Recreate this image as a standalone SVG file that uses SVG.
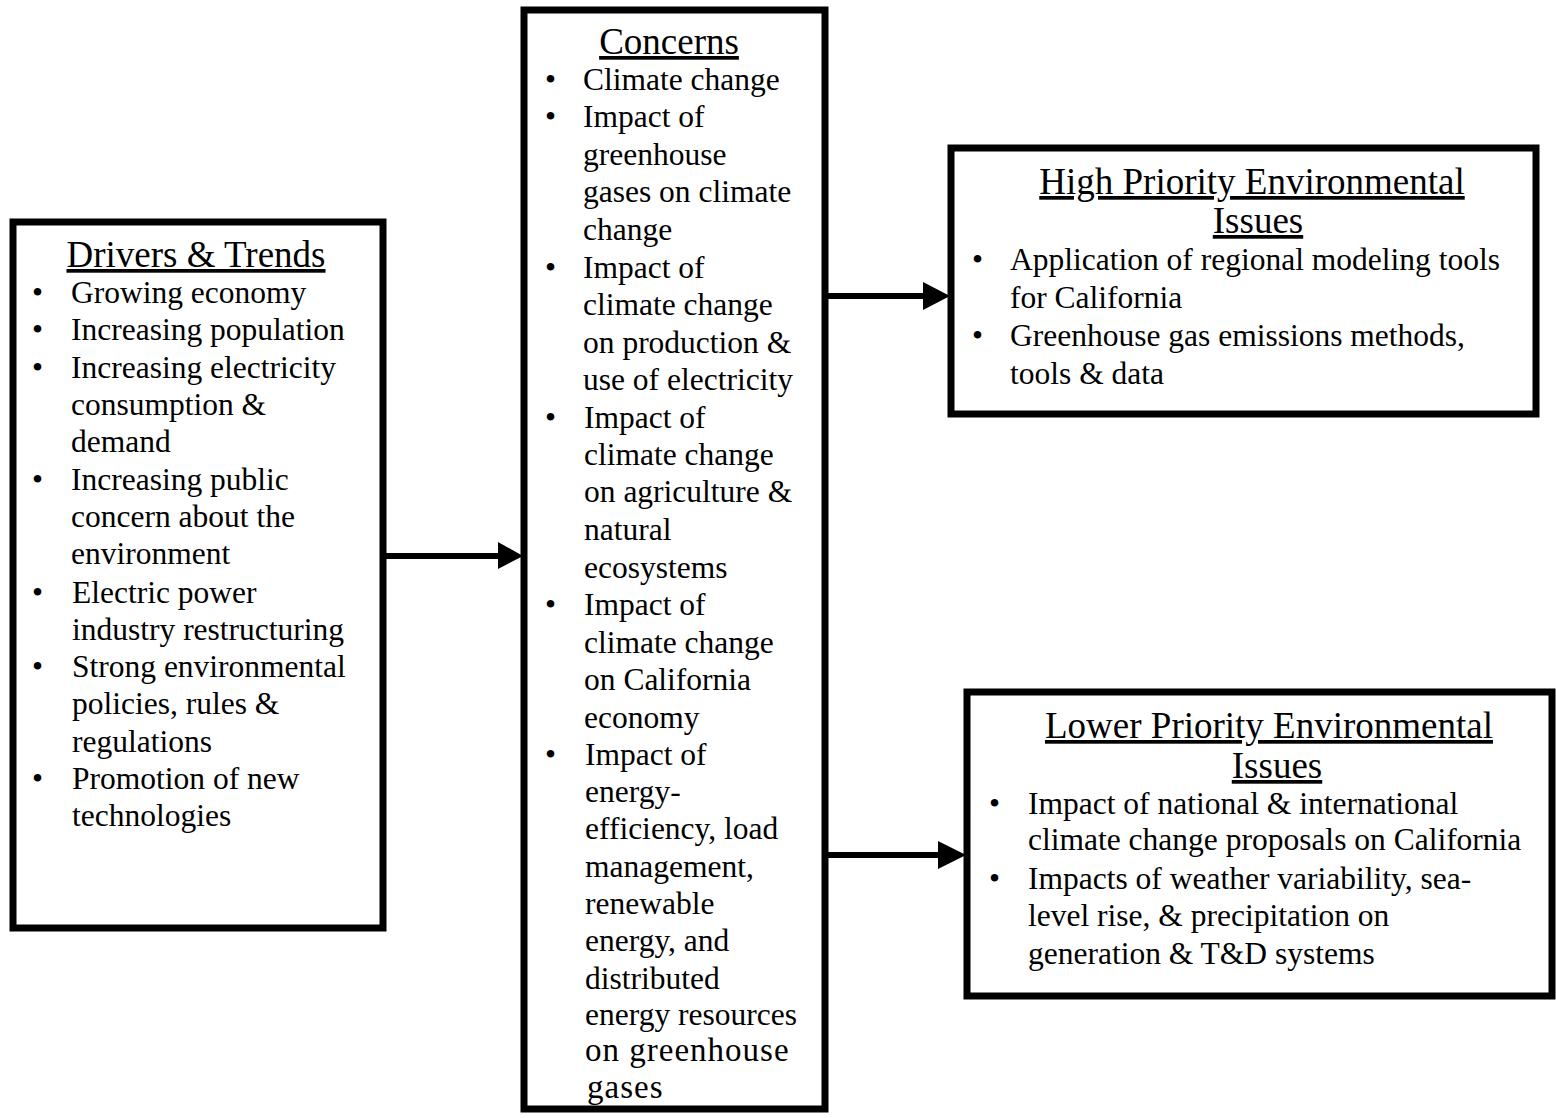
<svg xmlns="http://www.w3.org/2000/svg" width="1556" height="1118" viewBox="0 0 1556 1118">
<style>
.box{fill:#fff;stroke:#000;stroke-width:7}
text{font-family:"Liberation Serif","Times New Roman",serif;fill:#000}
.t{font-size:37px;text-anchor:middle;text-decoration:underline}
.b{font-size:31.5px}
.g{font-size:33px;letter-spacing:1px}
.conn line{stroke:#000;stroke-width:6}
.conn polygon{fill:#000}
</style>
<rect width="1556" height="1118" fill="#fff"/>
<g id="drivers">
<rect class="box" x="13" y="222" width="370" height="706"/>
<text class="t" x="196" y="267">Drivers &amp; Trends</text>
<g class="b">
<text x="32" y="303">•</text><text x="71" y="303">Growing economy</text>
<text x="32" y="340">•</text><text x="71" y="340">Increasing population</text>
<text x="32" y="378">•</text><text x="71" y="378">Increasing electricity</text>
<text x="71" y="415">consumption &amp;</text>
<text x="71" y="452">demand</text>
<text x="32" y="490">•</text><text x="71" y="490">Increasing public</text>
<text x="71" y="527">concern about the</text>
<text x="71" y="564">environment</text>
<text x="32" y="603">•</text><text x="72" y="603">Electric power</text>
<text x="72" y="640">industry restructuring</text>
<text x="32" y="677">•</text><text x="72" y="677">Strong environmental</text>
<text x="72" y="714">policies, rules &amp;</text>
<text x="72" y="752">regulations</text>
<text x="32" y="789">•</text><text x="72" y="789">Promotion of new</text>
<text x="72" y="826">technologies</text>
</g>
</g>
<g id="concerns">
<rect class="box" x="524" y="10" width="301" height="1099"/>
<text class="t" x="669" y="54">Concerns</text>
<g class="b">
<text x="545" y="90">•</text><text x="583" y="90">Climate change</text>
<text x="545" y="127">•</text><text x="583" y="127">Impact of</text>
<text x="583" y="165">greenhouse</text>
<text x="583" y="202">gases on climate</text>
<text x="583" y="240">change</text>
<text x="545" y="278">•</text><text x="583" y="278">Impact of</text>
<text x="583" y="315">climate change</text>
<text x="583" y="353">on production &amp;</text>
<text x="583" y="390">use of electricity</text>
<text x="545" y="428">•</text><text x="584" y="428">Impact of</text>
<text x="584" y="465">climate change</text>
<text x="584" y="502">on agriculture &amp;</text>
<text x="584" y="540">natural</text>
<text x="584" y="578">ecosystems</text>
<text x="545" y="615">•</text><text x="584" y="615">Impact of</text>
<text x="584" y="653">climate change</text>
<text x="584" y="690">on California</text>
<text x="584" y="728">economy</text>
<text x="545" y="765">•</text><text x="585" y="765">Impact of</text>
<text x="585" y="802">energy-</text>
<text x="585" y="839">efficiency, load</text>
<text x="585" y="877">management,</text>
<text x="585" y="914">renewable</text>
<text x="585" y="951">energy, and</text>
<text x="585" y="989">distributed</text>
<text x="585" y="1025">energy resources</text>
</g>
<g class="g">
<text x="585" y="1061">on greenhouse</text>
<text x="587" y="1098">gases</text>
</g>
</g>
<g id="high">
<rect class="box" x="951" y="148" width="585" height="266"/>
<text class="t" x="1252" y="194">High Priority Environmental</text>
<text class="t" x="1258" y="233">Issues</text>
<g class="b">
<text x="972" y="270">•</text><text x="1010" y="270">Application of regional modeling tools</text>
<text x="1010" y="308">for California</text>
<text x="972" y="346">•</text><text x="1010" y="346">Greenhouse gas emissions methods,</text>
<text x="1010" y="384">tools &amp; data</text>
</g>
</g>
<g id="lower">
<rect class="box" x="967" y="692" width="585" height="304"/>
<text class="t" x="1269" y="738">Lower Priority Environmental</text>
<text class="t" x="1277" y="778">Issues</text>
<g class="b">
<text x="989" y="814">•</text><text x="1028" y="814">Impact of national &amp; international</text>
<text x="1028" y="850">climate change proposals on California</text>
<text x="989" y="889">•</text><text x="1028" y="889">Impacts of weather variability, sea-</text>
<text x="1028" y="926">level rise, &amp; precipitation on</text>
<text x="1028" y="964">generation &amp; T&amp;D systems</text>
</g>
</g>
<g id="connectors" class="conn">
<line x1="386" y1="556" x2="502" y2="556"/>
<polygon points="498,542 523,556 498,569"/>
<line x1="828" y1="296" x2="927" y2="296"/>
<polygon points="923,282 950,296 923,310"/>
<line x1="828" y1="855" x2="942" y2="855"/>
<polygon points="938,841 966,855 938,869"/>
</g>
</svg>
